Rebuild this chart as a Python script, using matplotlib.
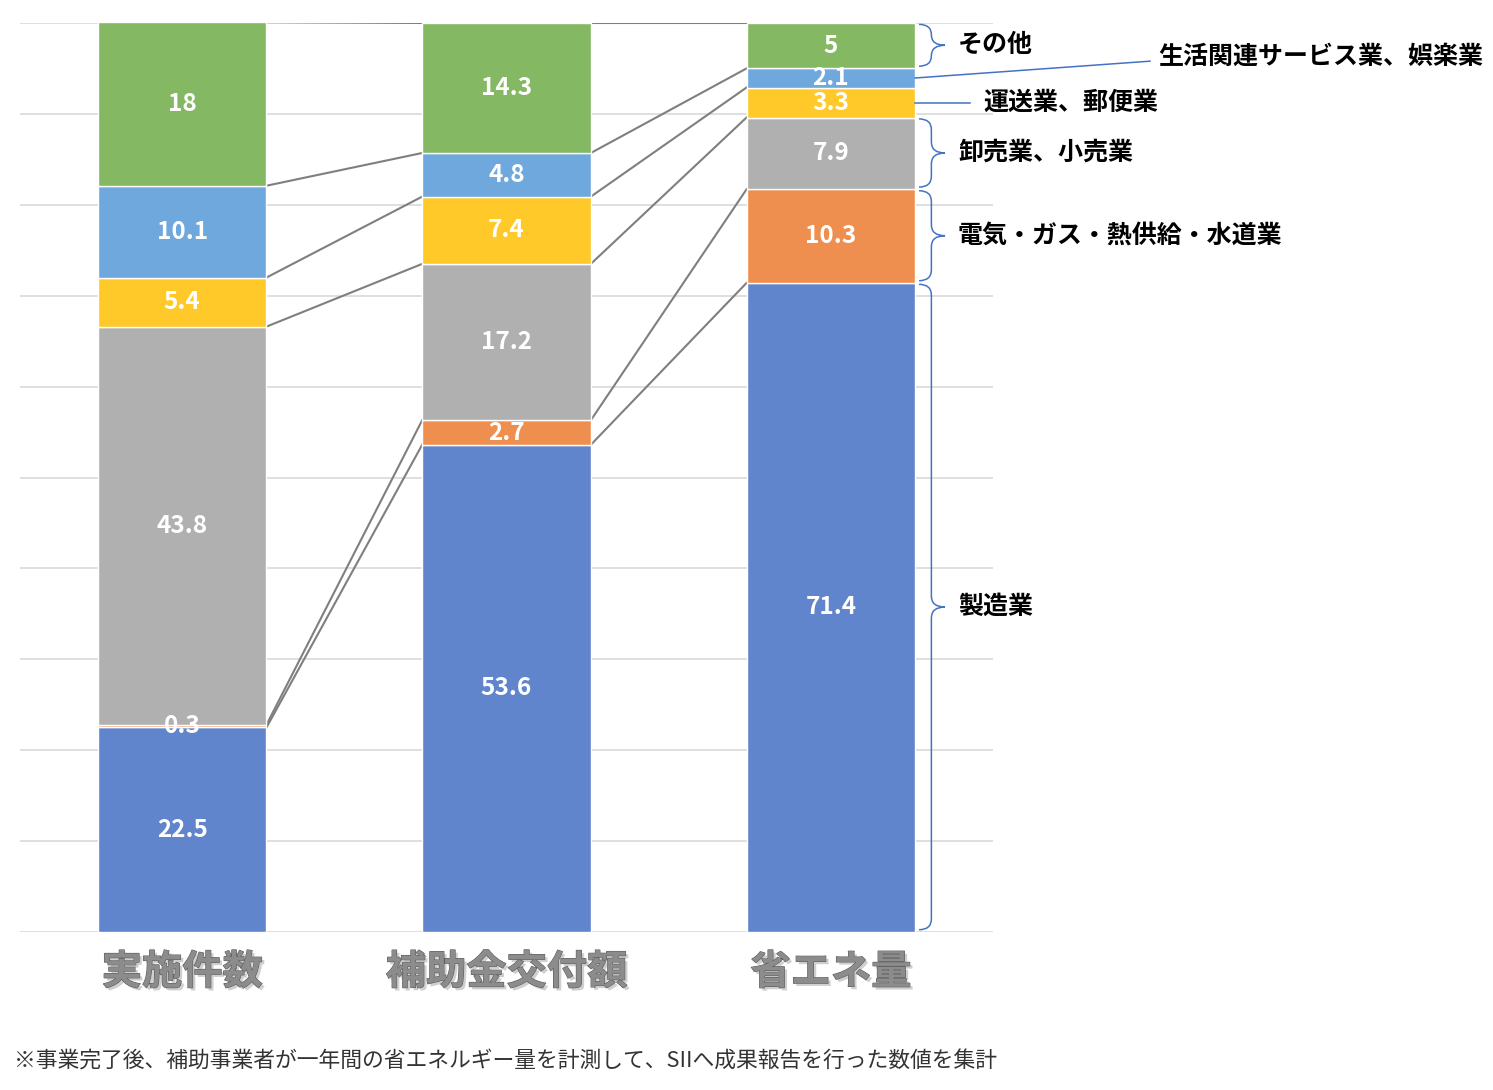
import numpy as np
import matplotlib
matplotlib.use("Agg")
import matplotlib.pyplot as plt
from matplotlib.path import Path
from matplotlib.patches import PathPatch
import matplotlib.patheffects as pe

plt.rcParams['font.family'] = ['Noto Sans CJK JP', 'DejaVu Sans']

# data (percent shares, bottom to top)
categories = ['実施件数', '補助金交付額', '省エネ量']
series_names = ['製造業', '電気・ガス・熱供給・水道業', '卸売業、小売業',
                '運送業、郵便業', '生活関連サービス業、娯楽業', 'その他']
manufacturing = [22.5, 53.6, 71.4]
utilities = [0.3, 2.7, 10.3]
wholesale = [43.8, 17.2, 7.9]
transport = [5.4, 7.4, 3.3]
lifestyle = [10.1, 4.8, 2.1]
other = [18, 14.3, 5]
colors = ['#6085cc', '#ef8f4f', '#b0b0b0', '#ffc929', '#6fa8dc', '#85b863']
footnote = '※事業完了後、補助事業者が一年間の省エネルギー量を計測して、SIIへ成果報告を行った数値を集計'

values = np.array([manufacturing, utilities, wholesale, transport, lifestyle, other])

fig = plt.figure(figsize=(14.93, 10.90), dpi=100)
ax = fig.add_axes([20 / 1493, 1 - 932 / 1090, 973 / 1493, 909 / 1090])

x = np.arange(len(categories))
width = 0.52
bottoms = np.zeros(len(categories))
for vals, col in zip(values, colors):
    ax.bar(x, vals, width, bottom=bottoms, color=col, edgecolor='white', lw=1, zorder=3)
    for xi, v, b in zip(x, vals, bottoms):
        ax.text(xi, b + v / 2, f'{v:g}', ha='center', va='center', color='white',
                fontsize=17.5, fontweight='bold', zorder=5)
    bottoms = bottoms + vals

# series lines between bars
cum = np.cumsum(values, axis=0)
for row in cum:
    for i in range(len(categories) - 1):
        ax.plot([x[i] + width / 2, x[i + 1] - width / 2], [row[i], row[i + 1]],
                color='#7f7f7f', lw=1.5, zorder=2)

ax.set_xlim(-0.5, 2.5)
ax.set_ylim(0, 100)
ax.set_yticks(np.arange(0, 101, 10))
ax.yaxis.grid(True, color='#d9d9d9', lw=1.2, zorder=0)
ax.tick_params(left=False, bottom=False, labelleft=False)
for s in ax.spines.values():
    s.set_visible(False)
ax.set_xticks(x)
ax.set_xticklabels(categories, fontsize=29, fontweight='bold', color='#8c8c8c')
ax.tick_params(axis='x', pad=11)
for t in ax.get_xticklabels():
    t.set_path_effects([pe.SimplePatchShadow(offset=(2, -2), shadow_rgbFace='#b0b0b0', alpha=0.6),
                        pe.withStroke(linewidth=0.8, foreground='#5a5a5a')])


def brace(ax, y0, y1, x0=2.272, xm=2.31, xt=2.352, color='#4472c4'):
    ym = (y0 + y1) / 2
    r = min(1.2, (y1 - y0) / 4)
    verts = [(x0, y1), (xm, y1), (xm, y1 - r),
             (xm, ym + r), (xm, ym), (xt, ym),
             (xm, ym), (xm, ym - r),
             (xm, y0 + r), (xm, y0), (x0, y0)]
    codes = [Path.MOVETO, Path.CURVE3, Path.CURVE3,
             Path.LINETO, Path.CURVE3, Path.CURVE3,
             Path.CURVE3, Path.CURVE3,
             Path.LINETO, Path.CURVE3, Path.CURVE3]
    ax.add_patch(PathPatch(Path(verts, codes), fc='none', ec=color, lw=1.1,
                           clip_on=False, zorder=4))


c3 = cum[:, 2]
b3 = c3 - values[:, 2]
lbl_kw = dict(fontsize=18, fontweight='bold', color='black', va='center', ha='left')
# braces with labels
for idx in [5, 2, 1, 0]:
    lo, hi = b3[idx] + 0.25, c3[idx] - 0.15
    brace(ax, lo, hi)
    ax.text(2.392, (lo + hi) / 2, series_names[idx], clip_on=False, **lbl_kw)

# leader lines
ym = (b3[4] + c3[4]) / 2
ax.plot([2.26, 2.984], [ym, 95.8], color='#4472c4', lw=1.1, clip_on=False, zorder=4)
ax.text(3.009, 96.3, series_names[4], clip_on=False, **lbl_kw)
ym = (b3[3] + c3[3]) / 2
ax.plot([2.26, 2.429], [ym, ym], color='#4472c4', lw=1.1, clip_on=False, zorder=4)
ax.text(2.469, ym, series_names[3], clip_on=False, **lbl_kw)

fig.text(14 / 1493, 1 - 1062 / 1090, footnote, fontsize=15.7, color='#333333',
         ha='left', va='center')

fig.savefig('out.png', dpi=100)
